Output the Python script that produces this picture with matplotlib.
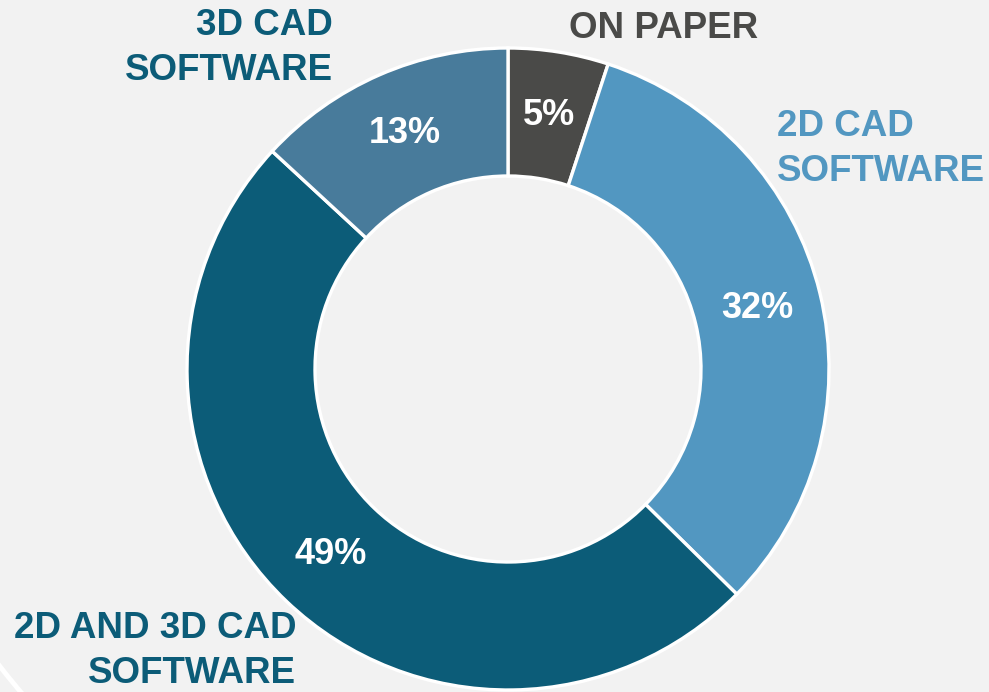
import matplotlib
matplotlib.use("Agg")
import matplotlib.pyplot as plt
from matplotlib.patches import Circle

categories = ["ON PAPER", "2D CAD\nSOFTWARE", "2D AND 3D CAD\nSOFTWARE", "3D CAD\nSOFTWARE"]
values = [5, 32, 49, 13]
pct_labels = ["5%", "32%", "49%", "13%"]
colors = ["#4a4a48", "#5297c1", "#0c5c78", "#487b9b"]
label_colors = ["#4a4a48", "#5297c1", "#0c5c78", "#0c5c78"]

W, H = 989, 692
fig = plt.figure(figsize=(W / 100, H / 100), dpi=100)
fig.patch.set_facecolor("#f2f2f2")
ax = fig.add_axes([0, 0, 1, 1])
ax.set_facecolor("#f2f2f2")

# decorative background arc (bottom-left corner)
ax.add_patch(Circle((600, H - 200), 760, fill=False, edgecolor="white", linewidth=3.5, zorder=0))

cx, cy, R = 508, H - 369, 321
wedges, texts, autotexts = ax.pie(
    values, colors=colors, startangle=90, counterclock=False,
    center=(cx, cy), radius=R, autopct="%1.0f%%", pctdistance=0.80,
    wedgeprops=dict(width=128, edgecolor="white", linewidth=2.4),
    textprops=dict(color="white", fontsize=26, fontweight="bold", family="Liberation Sans"),
    frame=True,
)
ax.set_xlim(0, W)
ax.set_ylim(0, H)
ax.set_aspect("equal")
ax.axis("off")
for t, s in zip(autotexts, pct_labels):
    t.set_text(s)

font = dict(fontsize=26.5, fontweight="bold", family="Liberation Sans", linespacing=1.36)
ax.text(664, H - 28, categories[0], color=label_colors[0], ha="center", va="center", **font)
ax.text(777, H - 149, categories[1], color=label_colors[1], ha="left", va="center", **font)
ax.text(296, H - 651, categories[2], color=label_colors[2], ha="right", va="center", multialignment="right", **font)
ax.text(333, H - 48, categories[3], color=label_colors[3], ha="right", va="center", multialignment="right", **font)

fig.savefig("out.png", dpi=100, facecolor=fig.get_facecolor())
